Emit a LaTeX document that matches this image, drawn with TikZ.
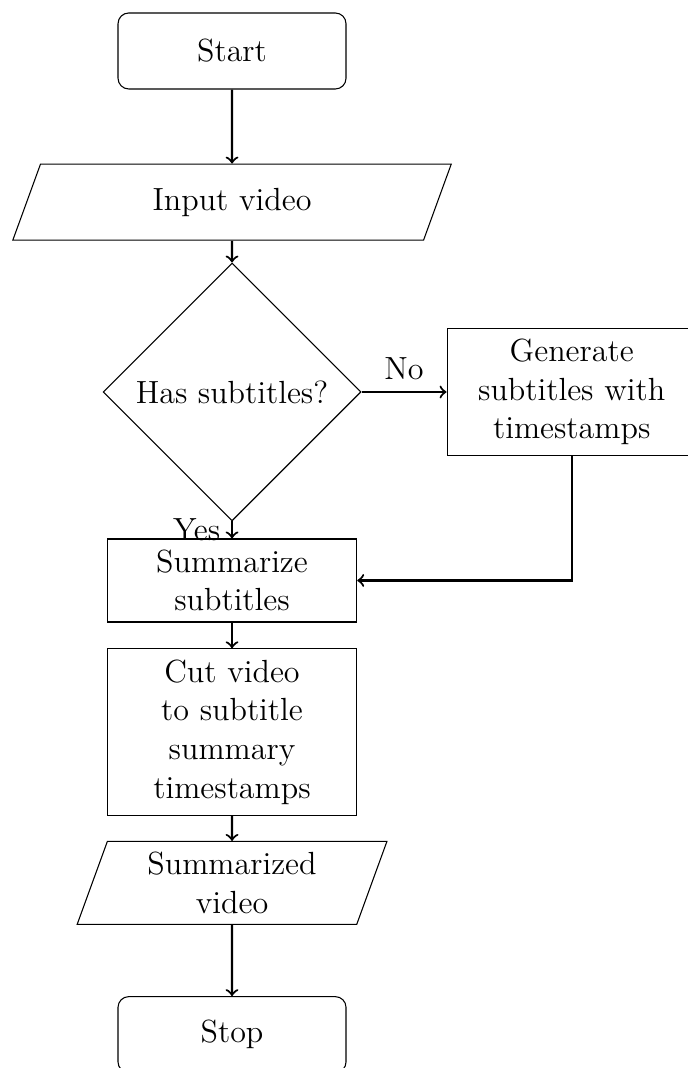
\documentclass[12pt,tikz,border=0pt]{standalone}
\usetikzlibrary{shapes.geometric}
\tikzset{
  startstop/.style={rectangle, rounded corners, minimum width=3cm, minimum height=1cm, align=center, draw=black},
  io/.style={trapezium, trapezium left angle=70, trapezium right angle=110, minimum height=1cm, align=center, draw=black},
  process/.style={rectangle, text width=3cm, minimum height=1cm, align=center, draw=black},
  decision/.style={diamond, aspect=1, align=center, draw=black},
  flowarrow/.style={thick, ->}
}
\begin{document}
\begin{tikzpicture}
\useasboundingbox (-3.053,0.671) rectangle (5.987,-13.382);
\node[startstop] (start) at (0,0) {Start};
\node[io, text width=135.4pt, text height=8.4pt, text depth=2.4pt, inner ysep=8.85pt] (in) at (0,-1.989) {Input video};
\node[decision] (dec) at (0,-4.487) {Has subtitles?};
\node[process] (gen) at (4.470,-4.487) {Generate subtitles with timestamps};
\node[process] (sum) at (0,-6.967) {Summarize subtitles};
\node[process] (cut) at (0,-8.961) {Cut video to subtitle summary timestamps};
\node[io, text width=3cm] (out) at (0,-10.947) {Summarized video};
\node[startstop] (stop) at (0,-12.943) {Stop};
\draw[flowarrow] (start) -- (in);
\draw[flowarrow] (in) -- (dec);
\draw[flowarrow] (dec) -- node[above] {No} (gen);
\draw[flowarrow] (dec) -- node[left] {Yes} (sum);
\draw[flowarrow] (gen) |- (sum);
\draw[flowarrow] (sum) -- (cut);
\draw[flowarrow] (cut) -- (out);
\draw[flowarrow] (out) -- (stop);
\end{tikzpicture}
\end{document}
